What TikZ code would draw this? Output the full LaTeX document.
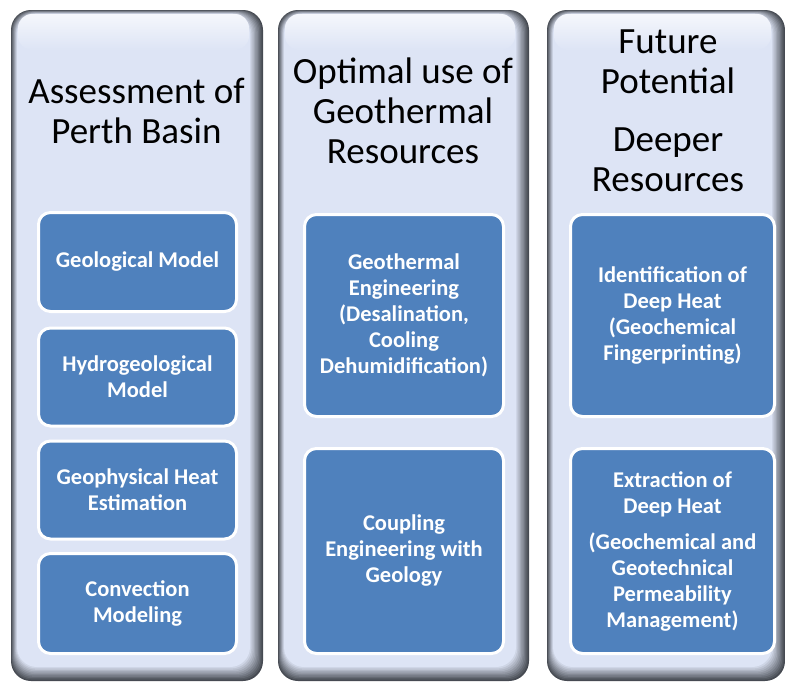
\documentclass[tikz,border=0pt]{standalone}
\usepackage{fontspec}
\setmainfont{Carlito}
\definecolor{lav}{RGB}{221,228,245}
\definecolor{edgegray}{RGB}{70,74,82}
\definecolor{boxblue}{RGB}{79,129,189}
\newcommand\bevelcol[4]{%
  \foreach \i in {0,...,10}{%
    \pgfmathsetmacro\pc{\i*10}%
    \fill[lav!\pc!edgegray, rounded corners=20pt]
      (#1+0.6*\i,#2+0.4*\i) rectangle (#3-1.3*\i,#4-1.4*\i);
  }%
  \shade[top color=lav!30!white, bottom color=lav, rounded corners=14pt]
      (#1+7,#2+4) rectangle (#3-14,#2+40);
}
\tikzset{
  blk/.style={fill=boxblue, draw=white, line width=3pt, rounded corners=12pt,
    text=white, font=\fontsize{22.5}{26}\selectfont\bfseries, align=center, inner sep=0pt},
  ttl/.style={text=black, font=\fontsize{37}{40}\selectfont, align=center, inner sep=0pt}
}
\begin{document}
\begin{tikzpicture}[x=1pt,y=-1pt]
\useasboundingbox (0,0) rectangle (785,681);
\fill[white] (0,0) rectangle (785,681);
\bevelcol{11}{10}{263}{681}
\bevelcol{278}{10}{529}{681}
\bevelcol{547}{10}{785}{681}
% titles
\node[ttl] (t1) at (136.5,111) {Assessment of\\Perth Basin};
\node[ttl] (t2) at (403,111) {Optimal use of\\Geothermal\\Resources};
\node[ttl] (t3) at (668,111) {Future\\Potential\\[18pt]Deeper\\Resources};
% column 1 boxes
\node[blk, minimum width=198pt, minimum height=99pt] (a1) at (137.5,262) {Geological Model};
\node[blk, minimum width=198pt, minimum height=98pt] (a2) at (137.5,377) {Hydrogeological\\Model};
\node[blk, minimum width=198pt, minimum height=98pt] (a3) at (137.5,490) {Geophysical Heat\\Estimation};
\node[blk, minimum width=198pt, minimum height=100pt] (a4) at (137.5,603.5) {Convection\\Modeling};
% column 2 boxes
\node[blk, minimum width=199pt, minimum height=202pt] (b1) at (404,315.5) {Geothermal\\Engineering\\(Desalination,\\Cooling\\Dehumidification)};
\node[blk, minimum width=199pt, minimum height=205pt] (b2) at (404,551) {Coupling\\Engineering with\\Geology};
% column 3 boxes
\node[blk, minimum width=204pt, minimum height=202pt] (c1) at (672.5,315.5) {Identification of\\Deep Heat\\(Geochemical\\Fingerprinting)};
\node[blk, minimum width=204pt, minimum height=205pt] (c2) at (672.5,551) {Extraction of\\Deep Heat\\[10pt](Geochemical and\\Geotechnical\\Permeability\\Management)};
\end{tikzpicture}
\end{document}
